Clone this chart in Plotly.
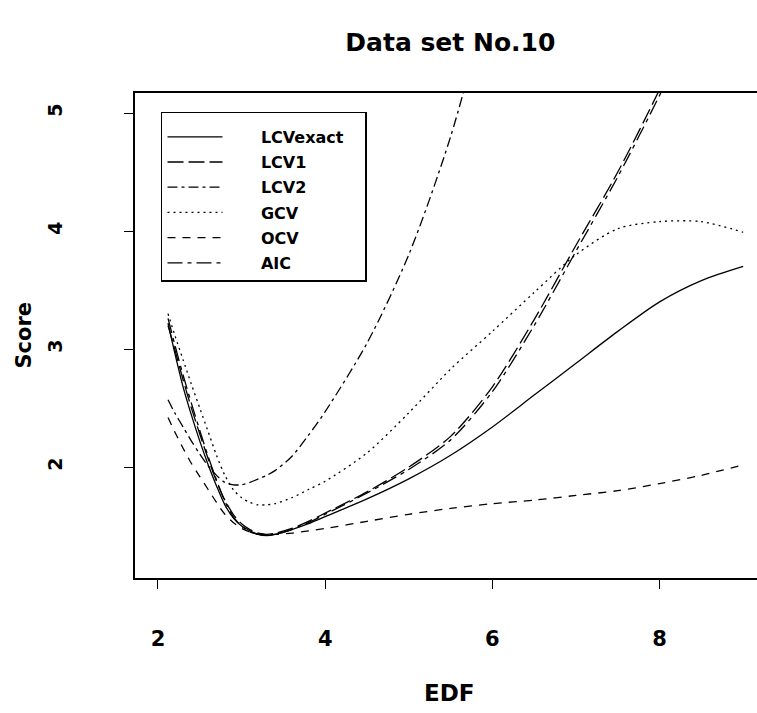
import plotly.graph_objects as go

# ---- data ----
edf = [2.12, 2.2, 2.3, 2.4, 2.5, 2.6, 2.7, 2.8, 2.9, 3.0, 3.1, 3.2, 3.3, 3.4,
       3.6, 3.8, 4.0, 4.5, 5.0, 5.5, 6.0, 6.5, 7.0, 7.5, 8.0, 8.5, 9.0]

lcv_exact = [3.22, 2.97, 2.68, 2.44, 2.22, 2.02, 1.84, 1.68, 1.57, 1.50, 1.46, 1.43, 1.42, 1.43,
             1.47, 1.52, 1.58, 1.73, 1.90, 2.10, 2.34, 2.61, 2.88, 3.15, 3.40, 3.58, 3.70]
lcv1 = [3.20, 3.00, 2.74, 2.50, 2.28, 2.07, 1.88, 1.72, 1.60, 1.52, 1.47, 1.44, 1.43, 1.44,
        1.48, 1.54, 1.61, 1.79, 2.00, 2.26, 2.68, 3.25, 3.88, 4.50, 5.20, 5.95, None]
lcv2 = [2.57, 2.46, 2.34, 2.22, 2.11, 2.01, 1.93, 1.87, 1.85, 1.85, 1.87, 1.90, 1.93, 1.97,
        2.09, 2.27, 2.47, 3.05, 3.80, 4.80, 6.10, None, None, None, None, None, None]
gcv = [3.30, 3.12, 2.91, 2.70, 2.50, 2.30, 2.10, 1.93, 1.81, 1.74, 1.70, 1.68, 1.68, 1.69,
       1.74, 1.81, 1.88, 2.12, 2.46, 2.83, 3.15, 3.48, 3.80, 4.02, 4.08, 4.08, 3.99]
ocv = [2.42, 2.30, 2.16, 2.03, 1.92, 1.81, 1.70, 1.60, 1.53, 1.48, 1.45, 1.43, 1.43, 1.43,
       1.44, 1.46, 1.48, 1.54, 1.60, 1.65, 1.69, 1.72, 1.76, 1.80, 1.86, 1.93, 2.02]
aic = [3.26, 3.04, 2.78, 2.54, 2.31, 2.09, 1.89, 1.71, 1.58, 1.50, 1.45, 1.43, 1.42, 1.43,
       1.47, 1.53, 1.60, 1.78, 1.98, 2.23, 2.64, 3.20, 3.83, 4.46, 5.15, 5.88, None]

series_names = ["LCVexact", "LCV1", "LCV2", "GCV", "OCV", "AIC"]
series_values = [lcv_exact, lcv1, lcv2, gcv, ocv, aic]
dash_styles = ["solid", "16px,5px", "10px,4px,3px,4px", "2px,4px", "8px,7px", "15px,5px,4px,5px"]

x_ticks = [2, 4, 6, 8]
y_ticks = [2, 3, 4, 5]

FONT = "DejaVu Sans"
NB = "\u00a0"

fig = go.Figure()
for name, vals, dash in zip(series_names, series_values, dash_styles):
    fig.add_trace(go.Scatter(
        x=edf, y=vals, name=NB * 6 + name + NB * 3, mode="lines",
        line=dict(color="black", width=1.3, dash=dash, shape="spline", smoothing=0.8),
        legendgroup=name,
    ))

x_font = dict(family=FONT, size=21, color="black", weight="bold")
y_font = dict(family=FONT, size=19, color="black", weight="bold")

fig.update_layout(
    width=757, height=713,
    margin=dict(l=135, r=0, t=93, b=135),
    paper_bgcolor="white", plot_bgcolor="white",
    title=dict(text="Data set No.10", x=0.507, xref="paper", xanchor="center",
               y=1 - 42 / 713, yref="container", yanchor="middle",
               font=dict(family=FONT, size=25, color="black", weight="bold")),
    showlegend=True,
    legend=dict(x=0.0418, y=0.961, xanchor="left", yanchor="top",
                bgcolor="white", bordercolor="black", borderwidth=1.5,
                font=dict(family=FONT, size=16, color="black", weight="bold"),
                title=dict(text=NB, font=dict(size=5)),
                itemwidth=55, tracegroupgap=1.4),
    xaxis=dict(range=[1.725, 9.165], tickvals=x_ticks, ticktext=[str(v) for v in x_ticks],
               ticks="outside", ticklen=9, tickwidth=1.3, tickcolor="black",
               showline=True, linecolor="black", linewidth=1.5, mirror=True,
               showgrid=False, zeroline=False, tickfont=x_font, ticklabelstandoff=32),
    yaxis=dict(range=[1.06, 5.17], tickvals=y_ticks, ticktext=[str(v) for v in y_ticks],
               ticks="outside", ticklen=9, tickwidth=1.3, tickcolor="black",
               showline=True, linecolor="black", linewidth=1.5, mirror=False,
               showgrid=False, zeroline=False, tickfont=y_font, tickangle=-90,
               ticklabelstandoff=55),
    annotations=[
        dict(text="EDF", x=0.505, y=-0.238, xref="paper", yref="paper",
             showarrow=False, xanchor="center", yanchor="middle",
             font=dict(family=FONT, size=23, color="black", weight="bold")),
        dict(text="Score", x=-0.18, y=0.5, xref="paper", yref="paper",
             showarrow=False, xanchor="center", yanchor="middle", textangle=-90,
             font=dict(family=FONT, size=21, color="black", weight="bold")),
    ],
)

fig.write_html("out.html")
